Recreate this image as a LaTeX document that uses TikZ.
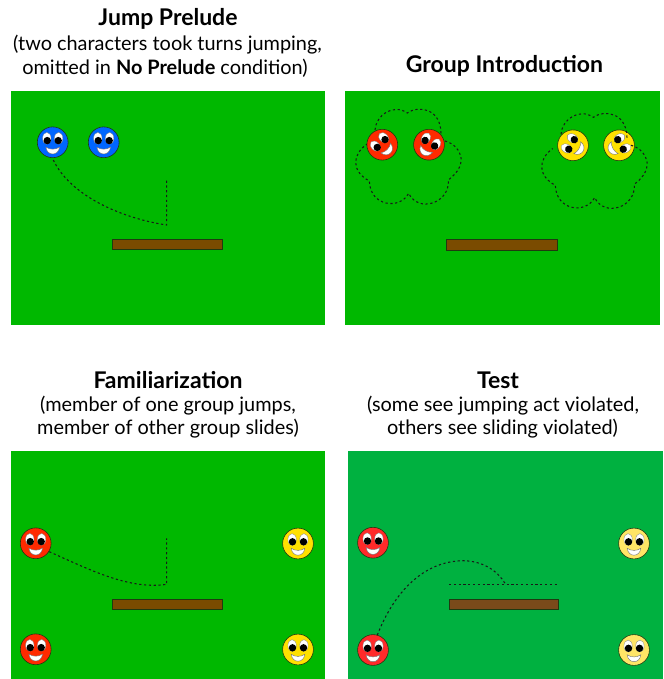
\documentclass[tikz,border=0pt]{standalone}
\usepackage{fontspec}
\setmainfont{Lato}
\definecolor{fieldA}{HTML}{00B800}
\definecolor{fieldB}{HTML}{00B140}
\definecolor{barA}{HTML}{7A4B00}
\definecolor{barB}{HTML}{7A4A1A}
\definecolor{faceBlue}{HTML}{0066FF}
\definecolor{faceRed}{HTML}{FF2A00}
\definecolor{faceRedB}{HTML}{FF2A2A}
\definecolor{faceYellow}{HTML}{FFE000}
\definecolor{faceYellowB}{HTML}{FFE566}
\definecolor{edgeDark}{HTML}{1F3A10}
\tikzset{
  x=1pt, y=-1pt,
  field/.style={fill=#1, draw=none},
  plank/.style={fill=#1, draw=edgeDark, line width=0.8pt},
  route/.style={draw=black!90, line width=1.05pt, dash pattern=on 2.2pt off 2.6pt},
  headline/.style={font=\fontsize{23}{27}\selectfont\bfseries, anchor=center},
  remark/.style={font=\fontsize{19.9}{23}\selectfont, anchor=center},
  pics/smiley/.style={code={
    \fill[fill=#1, draw=edgeDark, line width=0.6pt] (0,0) circle [radius=15.4];
    \foreach \s in {-1,1}{
      \fill[white, draw=black!50, line width=0.3pt] (\s*5.9,-4.0) ellipse [x radius=4.2, y radius=5.9];
      \fill[black] (\s*5.5,-1.7) circle [radius=3.7];
    }
    \fill[white, draw=black!55, line width=0.4pt]
      (-6.8,4.8) .. controls (-3,7.6) and (3,7.6) .. (6.8,4.8)
      .. controls (5.8,14) and (-5.8,14) .. (-6.8,4.8) -- cycle;
  }}
}
% outline of a group's thought cloud, in units of a third of a point
\newcommand{\cloudoutline}{
  \draw[route]
    (75,105) .. controls (78,60) and (130,25) .. (172,54)
    .. controls (205,30) and (272,40) .. (273,115);
  \draw[route]
    (285,138) .. controls (330,150) and (362,205) .. (295,255)
    .. controls (300,325) and (205,355) .. (176,295)
    .. controls (150,345) and (60,335) .. (58,258)
    .. controls (5,230) and (5,180) .. (50,148);
}
\begin{document}
\begin{tikzpicture}
\useasboundingbox (0,0) rectangle (663,679);

% playing fields
\fill[field=fieldA] (11,91) rectangle (325,325);
\fill[field=fieldA] (345,91) rectangle (660,325);
\fill[field=fieldA] (11,451) rectangle (325,679);
\fill[field=fieldB] (348,451) rectangle (663,679);

% planks
\draw[plank=barA] (112.3,239.3) rectangle (222.7,249.7);
\draw[plank=barA] (446.5,239.5) rectangle (557.5,250);
\draw[plank=barA] (112.3,599.3) rectangle (222.7,609.7);
\draw[plank=barB] (449,599.3) rectangle (558.7,609.7);

% jump prelude
\pic at (52.7,142.3) {smiley=faceBlue};
\pic at (103.7,142.3) {smiley=faceBlue};
\draw[route] (53.3,160) .. controls (70,195) and (120,218) .. (166.7,225) -- (166.7,178);

% group introduction
\pic[rotate=45] at (382.3,144.7) {smiley=faceRed};
\pic[rotate=-30] at (429,144.7) {smiley=faceRed};
\pic[rotate=60] at (573,145.3) {smiley=faceYellow};
\pic[rotate=-60] at (619,145.3) {smiley=faceYellow};
\begin{scope}[shift={(350,95)}, x=0.3333pt, y=-0.3333pt]
  \cloudoutline
\end{scope}
\begin{scope}[shift={(536,99.3)}, x=0.3333pt, y=-0.3333pt]
  \cloudoutline
\end{scope}

% familiarization
\pic at (35.7,543.3) {smiley=faceRed};
\pic at (35.7,649.3) {smiley=faceRed};
\pic at (298,543.5) {smiley=faceYellow};
\pic at (298,649.5) {smiley=faceYellow};
\draw[route] (49.3,551.7) .. controls (90,570) and (130,590) .. (166.7,584.3) -- (166.7,538.3);

% test
\pic at (373,542.7) {smiley=faceRedB};
\pic at (373,650) {smiley=faceRedB};
\pic at (634,543.5) {smiley=faceYellowB};
\pic at (634,650) {smiley=faceYellowB};
\draw[route] (377.3,635) .. controls (395,590) and (425,561) .. (463.3,560.7)
  .. controls (482,561) and (497,570) .. (505,583.3);
\draw[route] (449,584.5) -- (558.7,584.5);

% captions
\node[headline] (t1) at (168,19) {Jump Prelude};
\node[remark] (r1a) at (167.5,45) {(two characters took turns jumping,};
\node[remark] (r1b) at (165,68) {omitted in \textbf{No Prelude} condition)};
\node[headline] (t2) at (504.5,66) {Group Introduction};
\node[headline] (t3) at (168,380) {Familiarization};
\node[remark] (r3a) at (168,406) {(member of one group jumps,};
\node[remark] (r3b) at (168,429) {member of other group slides)};
\node[headline] (t4) at (498,380) {Test};
\node[remark] (r4a) at (503,406) {(some see jumping act violated,};
\node[remark] (r4b) at (502.5,429) {others see sliding violated)};
\end{tikzpicture}
\end{document}
